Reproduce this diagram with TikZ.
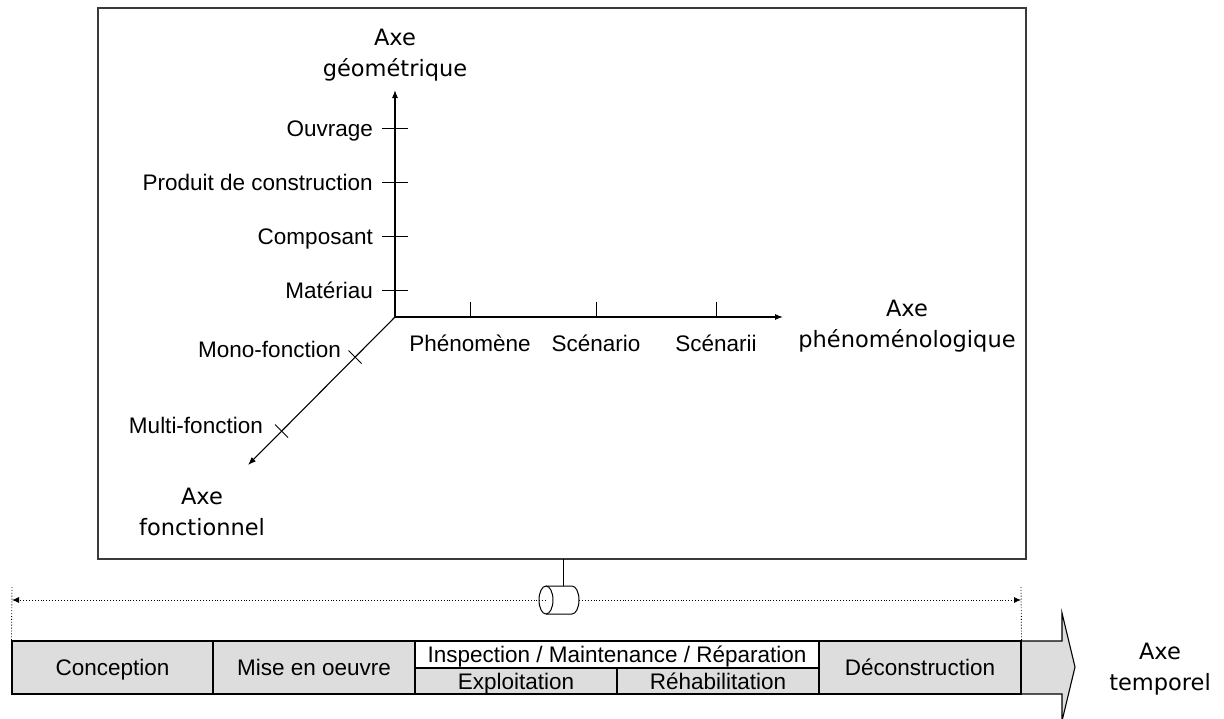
\documentclass[tikz,border=0pt]{standalone}
\usepackage{fontspec}
\setmainfont{Liberation Sans}
\newfontfamily\handfont{DejaVu Sans}
\usetikzlibrary{arrows.meta}
\definecolor{cellgray}{HTML}{DDDDDD}
\definecolor{framegray}{HTML}{3A3A3A}
\begin{document}
\begin{tikzpicture}[x=1pt,y=-1pt,
  lab/.style={font=\fontsize{22.5}{26}\selectfont, inner sep=0pt, text height=16pt, text depth=0pt},
  hand/.style={font=\handfont\fontsize{22.5}{31}\selectfont, align=center, inner sep=0pt},
  axisline/.style={line width=1.1pt, -{Latex[length=8pt,width=6pt]}},
  tick/.style={line width=0.9pt},
  cell/.style={draw, line width=1.1pt, fill=cellgray, inner sep=0pt},
  dotline/.style={dotted, line width=0.9pt},
  dotarrow/.style={dotted, line width=0.9pt, -{Latex[length=7pt,width=6pt]}}
]
\useasboundingbox (0,0) rectangle (1224,718);
% main frame
\node[draw=framegray, line width=1.5pt, minimum width=928pt, minimum height=551pt, inner sep=0pt] (frame) at (562,283.5) {};

% axes
\coordinate (O) at (395,317);
\coordinate (G) at (395,90);
\coordinate (P) at (783,317);
\coordinate (F) at (248,465);
\draw[axisline] (O) -- (G);
\draw[axisline] (O) -- (P);
\draw[axisline] (O) -- (F);

% geometric axis ticks and labels
\foreach \y/\t/\n in {128/Ouvrage/g1,182/Produit de construction/g2,236/Composant/g3,290/Matériau/g4}{
  \draw[tick] (382,\y) -- (408,\y);
  \node[lab, anchor=east] (\n) at (373,\y) {\t};
}
% phenomenological ticks and labels
\foreach \x/\t/\n in {470/Phénomène/p1,596/Scénario/p2,716/Scénarii/p3}{
  \draw[tick] (\x,302) -- (\x,317);
  \node[lab] (\n) at (\x,343) {\t};
}
% functional ticks and labels
\draw[tick] (348.5,350.5) -- (361.5,363.5);
\draw[tick] (275,424.5) -- (288,437.5);
\node[lab, anchor=east] (f1) at (341,349) {Mono-fonction};
\node[lab, anchor=east] (f2) at (263,425) {Multi-fonction};

% axis titles
\node[hand] (tg) at (395,55) {Axe\\géométrique};
\node[hand] (tp) at (907,326) {Axe\\phénoménologique};
\node[hand] (tf) at (202,512) {Axe\\fonctionnel};
\node[hand] (tt) at (1160,669) {Axe\\temporel};

% time arrow body
\draw[line width=1.1pt, fill=cellgray] (12,641) -- (1062,641) -- (1062,613) -- (1075,667) -- (1062,721) -- (1062,694) -- (12,694) -- cycle;
\node[cell, minimum width=201pt, minimum height=53pt] (c1) at (112.5,667.5) {};
\node[lab] at (c1) {Conception};
\node[cell, minimum width=202pt, minimum height=53pt] (c2) at (314,667.5) {};
\node[lab] at (c2) {Mise en oeuvre};
\node[cell, fill=white, minimum width=404pt, minimum height=27pt] (c3) at (617,654.5) {};
\node[lab] at (c3) {Inspection / Maintenance / Réparation};
\node[cell, minimum width=202pt, minimum height=26pt] (c4) at (516,681) {};
\node[lab] at (c4) {Exploitation};
\node[cell, minimum width=202pt, minimum height=26pt] (c5) at (718,681) {};
\node[lab] at (c5) {Réhabilitation};
\node[cell, minimum width=202pt, minimum height=53pt] (c6) at (920,667.5) {};
\node[lab] at (c6) {Déconstruction};

% cylinder (time cursor)
\node[minimum width=40pt, minimum height=28pt, inner sep=0pt] (cyl) at (559,600) {};
\draw[line width=1pt] (546,586) -- (572,586) arc[start angle=-90, end angle=90, x radius=7, y radius=14] -- (546,614);
\draw[line width=1pt] (546,600) ellipse[x radius=7, y radius=14];
\coordinate (hang) at (563,558.5);
\coordinate (cyltop) at (563,586);
\draw[line width=1pt] (hang) -- (cyltop);

% dotted range
\coordinate (L) at (12,600);
\coordinate (R) at (1021,600);
\coordinate (cl) at (546,600);
\coordinate (cr) at (579,600);
\draw[dotarrow] (cl) -- (L);
\draw[dotarrow] (cr) -- (R);
\coordinate (Lt) at (12,587);
\coordinate (Rt) at (1021,587);
\draw[dotline] (Lt) -- (c1.north west);
\draw[dotline] (Rt) -- (c6.north east);
\end{tikzpicture}
\end{document}
